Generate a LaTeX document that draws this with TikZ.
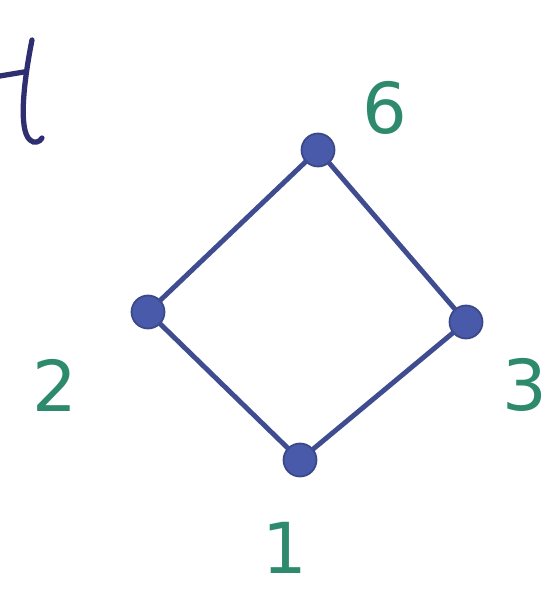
\documentclass[tikz,border=0pt]{standalone}
\usepackage{fontspec}
\setmainfont{DejaVu Sans}
\definecolor{ink}{HTML}{4A5AAA}
\definecolor{dark}{HTML}{2E2E70}
\definecolor{lbl}{HTML}{2E8A6C}
\tikzset{
  vtx/.style={circle, fill=ink, draw=ink!80!black, line width=1pt, minimum size=0.66cm, inner sep=0pt},
  edge/.style={draw=ink!85!black, line width=2.8pt, line cap=round},
  lab/.style={text=lbl, font=\fontsize{40}{40}\selectfont}
}
\begin{document}
\begin{tikzpicture}[x=0.02cm,y=-0.02cm]
\useasboundingbox (0,0) rectangle (552,590);
\fill[white] (0,0) rectangle (552,590);
\node[vtx] (n6) at (318,150) {};
\node[vtx] (n2) at (148,312) {};
\node[vtx] (n3) at (466,322) {};
\node[vtx] (n1) at (300,460) {};
\draw[edge] (n6) -- (n2);
\draw[edge] (n6) -- (n3);
\draw[edge] (n2) -- (n1);
\draw[edge] (n3) -- (n1);
\node[lab] (l6) at (385,108) {6};
\node[lab] (l2) at (55,385) {2};
\node[lab] (l3) at (525,385) {3};
\node[lab] (l1) at (285,548) {1};
\draw[dark, line width=3pt, line cap=round] (32,40) .. controls (24,80) and (18,130) .. (30,140) .. controls (34,144) and (40,142) .. (42,138);
\draw[dark, line width=3pt, line cap=round] (0,76) -- (24,72);
\end{tikzpicture}
\end{document}
